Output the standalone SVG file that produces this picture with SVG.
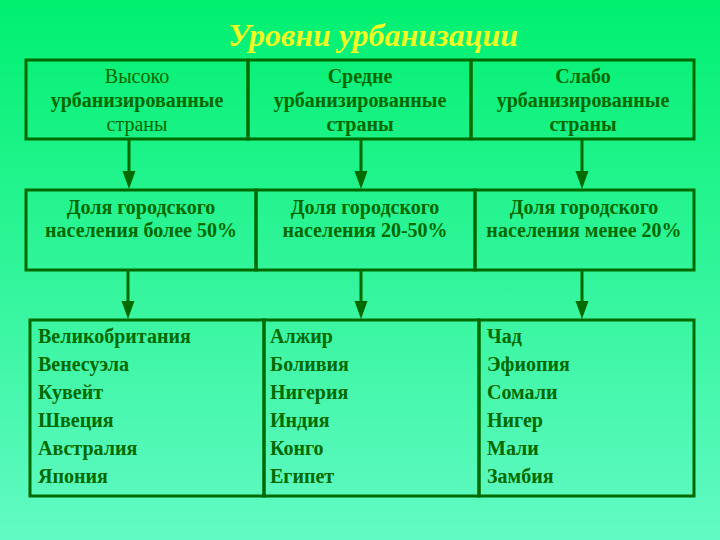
<svg xmlns="http://www.w3.org/2000/svg" width="720" height="540" viewBox="0 0 720 540">
<defs>
<linearGradient id="bg" x1="0" y1="0" x2="0" y2="1">
<stop offset="0" stop-color="#00f070"/>
<stop offset="1" stop-color="#62fac4"/>
</linearGradient>
<style>
.box{fill:none;stroke:#006a00;stroke-width:3}
.t{font-family:"Liberation Serif","Times New Roman",serif;font-weight:bold;fill:#006a00;font-size:20px}
.tn{font-weight:normal}
.c{text-anchor:middle}
.con{stroke:#006a00;stroke-width:3;fill:none}
.head{fill:#006a00}
</style>
</defs>
<rect width="720" height="540" fill="url(#bg)"/>
<text x="373" y="46" text-anchor="middle" font-family="'Liberation Serif','Times New Roman',serif" font-weight="bold" font-style="italic" font-size="32" fill="#eeff22">Уровни урбанизации</text>

<g id="connectors">
<line class="con" x1="129" y1="140" x2="129" y2="172"/>
<path class="head" d="M122.5,171 L135.5,171 L129,189 Z"/>
<line class="con" x1="361" y1="140" x2="361" y2="172"/>
<path class="head" d="M354.5,171 L367.5,171 L361,189 Z"/>
<line class="con" x1="582" y1="140" x2="582" y2="172"/>
<path class="head" d="M575.5,171 L588.5,171 L582,189 Z"/>
<line class="con" x1="128" y1="271" x2="128" y2="302"/>
<path class="head" d="M121.5,301 L134.5,301 L128,319 Z"/>
<line class="con" x1="361" y1="271" x2="361" y2="302"/>
<path class="head" d="M354.5,301 L367.5,301 L361,319 Z"/>
<line class="con" x1="582" y1="271" x2="582" y2="302"/>
<path class="head" d="M575.5,301 L588.5,301 L582,319 Z"/>
</g>

<g id="n-high">
<rect class="box" x="26" y="60" width="222" height="79"/>
<text class="t c"><tspan class="tn" x="137" y="83">Высоко</tspan><tspan x="137" y="107">урбанизированные</tspan><tspan class="tn" x="137" y="131">страны</tspan></text>
</g>
<g id="n-mid">
<rect class="box" x="248" y="60" width="223" height="79"/>
<text class="t c"><tspan x="360" y="83">Средне</tspan><tspan x="360" y="107">урбанизированные</tspan><tspan x="360" y="131">страны</tspan></text>
</g>
<g id="n-low">
<rect class="box" x="471" y="60" width="223" height="79"/>
<text class="t c"><tspan x="583" y="83">Слабо</tspan><tspan x="583" y="107">урбанизированные</tspan><tspan x="583" y="131">страны</tspan></text>
</g>

<g id="s-high">
<rect class="box" x="26" y="190" width="230" height="80"/>
<text class="t c"><tspan x="141" y="214">Доля городского</tspan><tspan x="141" y="237">населения более 50%</tspan></text>
</g>
<g id="s-mid">
<rect class="box" x="256" y="190" width="219" height="80"/>
<text class="t c"><tspan x="365" y="214">Доля городского</tspan><tspan x="365" y="237">населения 20-50%</tspan></text>
</g>
<g id="s-low">
<rect class="box" x="475" y="190" width="219" height="80"/>
<text class="t c"><tspan x="584" y="214">Доля городского</tspan><tspan x="584" y="237">населения менее 20%</tspan></text>
</g>

<g id="l-high">
<rect class="box" x="30" y="320" width="234" height="176"/>
<text class="t"><tspan x="38" y="343">Великобритания</tspan><tspan x="38" y="371">Венесуэла</tspan><tspan x="38" y="399">Кувейт</tspan><tspan x="38" y="427">Швеция</tspan><tspan x="38" y="455">Австралия</tspan><tspan x="38" y="483">Япония</tspan></text>
</g>
<g id="l-mid">
<rect class="box" x="264" y="320" width="215" height="176"/>
<text class="t"><tspan x="270" y="343">Алжир</tspan><tspan x="270" y="371">Боливия</tspan><tspan x="270" y="399">Нигерия</tspan><tspan x="270" y="427">Индия</tspan><tspan x="270" y="455">Конго</tspan><tspan x="270" y="483">Египет</tspan></text>
</g>
<g id="l-low">
<rect class="box" x="479" y="320" width="215" height="176"/>
<text class="t"><tspan x="487" y="343">Чад</tspan><tspan x="487" y="371">Эфиопия</tspan><tspan x="487" y="399">Сомали</tspan><tspan x="487" y="427">Нигер</tspan><tspan x="487" y="455">Мали</tspan><tspan x="487" y="483">Замбия</tspan></text>
</g>
</svg>
